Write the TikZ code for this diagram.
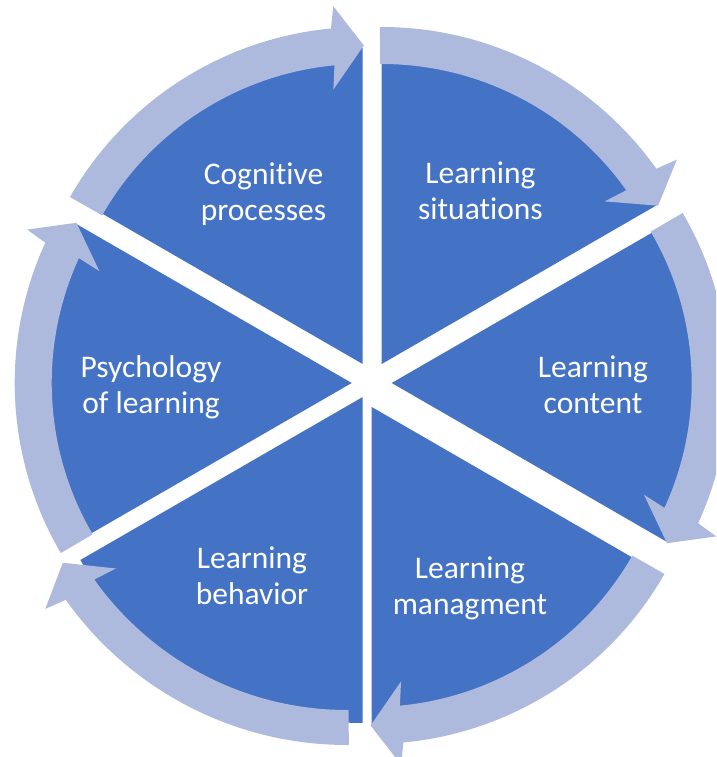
\documentclass[tikz,border=0pt]{standalone}
\usepackage{fontspec}
\setmainfont{Carlito}[Ligatures={NoCommon}]
\definecolor{segblue}{RGB}{68,114,196}
\definecolor{arrowlight}{RGB}{174,186,221}
\tikzset{
  segsector/.style={fill=segblue},
  segarrow/.style={fill=arrowlight},
  seglabel/.style={text=white, align=center, font=\fontsize{31.5}{36}\selectfont, inner sep=0pt}
}
% sector: apex x, apex y, cw boundary angle b (sector spans b-60..b), radius
\newcommand\drawsector[4]{%
  \fill[segsector, shift={(#1,#2)}] (0,0) -- ({#3-60}:#4)
    arc[start angle={#3-60}, end angle={#3}, radius=#4] -- cycle;
}
% arrow: centre x, centre y, inner radius, outer radius, start boundary angle
\newcommand\drawcyclearrow[5]{%
  \pgfmathsetmacro\myTs{#5+0.3}%
  \pgfmathsetmacro\myTt{#5-60.2}%
  \pgfmathsetmacro\myTh{\myTt+5.6}%
  \pgfmathsetmacro\myTo{\myTt+4.9}%
  \pgfmathsetmacro\myTi{\myTt+6.3}%
  \pgfmathsetmacro\myRow{#4+22}%
  \pgfmathsetmacro\myRiw{#3-24}%
  \pgfmathsetmacro\myRm{(#3+#4)/2}%
  \fill[segarrow, shift={(#1,#2)}] (\myTs:#4)
    arc[start angle=\myTs, end angle=\myTh, radius=#4]
    -- (\myTo:\myRow) -- (\myTt:\myRm) -- (\myTi:\myRiw) -- (\myTh:#3)
    arc[start angle=\myTh, end angle=\myTs, radius=#3] -- cycle;
}
\begin{document}
\begin{tikzpicture}[x=1pt,y=1pt]
\useasboundingbox (0,0) rectangle (716,757);
\fill[white] (0,0) rectangle (716,757);
\clip (0,0) rectangle (716,757);
% sectors
\drawsector{362.7}{393}{150}{316}
\drawsector{381.7}{393}{90}{318}
\drawsector{391.7}{374}{30}{318}
\drawsector{371.7}{350}{-30}{318}
\drawsector{362.7}{360}{-90}{326}
\drawsector{351.7}{374}{-150}{318}
% arrows
\drawcyclearrow{362.7}{393}{300}{337}{150}
\drawcyclearrow{381.7}{393}{300}{337}{90}
\drawcyclearrow{391.7}{374}{300}{337}{30}
\drawcyclearrow{371.7}{350}{300}{337}{-30}
\drawcyclearrow{347}{357}{310}{345}{-90}
\drawcyclearrow{351.7}{374}{300}{337}{-150}
% labels
\node[seglabel] (cog) at (263.5,563) {Cognitive\\processes};
\node[seglabel] (sit) at (480.5,566) {Learning\\situations};
\node[seglabel] (con) at (593,372) {Learning\\content};
\node[seglabel] (psy) at (151,369.5) {Psychology\\of learning};
\node[seglabel] (beh) at (252,181.5) {Learning\\behavior};
\node[seglabel] (man) at (470,169) {Learning\\managment};
\end{tikzpicture}
\end{document}
